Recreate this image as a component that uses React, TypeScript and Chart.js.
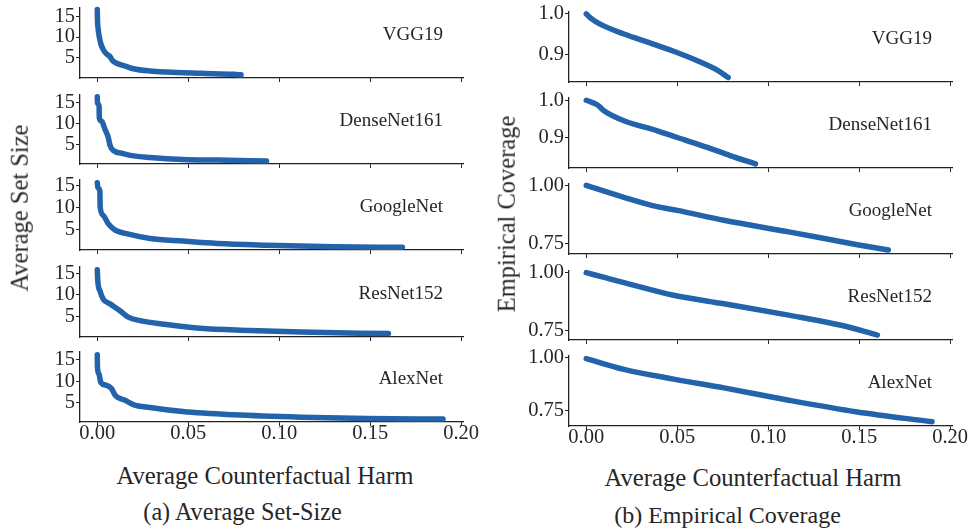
import React, { useEffect, useRef } from 'react';
import { Chart, registerables } from 'chart.js';
Chart.register(...registerables);

const MODELS = ['VGG19', 'DenseNet161', 'GoogleNet', 'ResNet152', 'AlexNet'];
const X_TICKS = [0, 0.05, 0.1, 0.15, 0.2];
const SIZE_TICKS = [5, 10, 15];
const COV_TICKS_FINE = [0.9, 1.0];
const COV_TICKS_COARSE = [0.75, 1.0];

// Average set size vs counterfactual harm
const vggSizeX = [0, 0.0001, 0.0004, 0.001, 0.002, 0.0037, 0.0052, 0.007, 0.0083, 0.0107, 0.0162, 0.0198, 0.029, 0.038, 0.0566, 0.075, 0.079];
const vggSizeY = [16.6, 14.2, 12.2, 10.3, 8.3, 6.7, 5.9, 5.3, 4.4, 3.7, 2.9, 2.4, 1.85, 1.6, 1.3, 1.05, 0.95];
const denseSizeX = [0, 0.0001, 0.001, 0.0011, 0.0024, 0.0042, 0.006, 0.007, 0.0088, 0.0143, 0.02, 0.029, 0.047, 0.066, 0.093];
const denseSizeY = [16.3, 14.8, 14.0, 11.3, 10.5, 8.6, 6.7, 4.8, 3.6, 2.85, 2.3, 1.93, 1.47, 1.3, 1.07];
const googleSizeX = [0, 0.0003, 0.0014, 0.0016, 0.0033, 0.006, 0.0098, 0.016, 0.029, 0.047, 0.066, 0.093, 0.13, 0.1677];
const googleSizeY = [15.75, 14.6, 13.9, 10.1, 8.2, 6.3, 4.8, 4.0, 2.9, 2.3, 1.75, 1.35, 0.98, 0.84];
const resSizeX = [0, 0.0003, 0.0015, 0.0033, 0.007, 0.0125, 0.017, 0.0235, 0.038, 0.0566, 0.084, 0.112, 0.16];
const resSizeY = [15.9, 13.2, 10.9, 9.0, 7.9, 6.3, 4.8, 4.0, 3.1, 2.2, 1.7, 1.3, 0.95];
const alexSizeX = [0, 0.0001, 0.001, 0.0019, 0.0052, 0.0079, 0.0098, 0.0153, 0.0198, 0.029, 0.047, 0.075, 0.112, 0.148, 0.19];
const alexSizeY = [16.2, 13.2, 11.6, 9.7, 9.0, 8.2, 6.7, 5.5, 4.5, 3.8, 2.85, 2.1, 1.55, 1.25, 1.1];

// Empirical coverage vs counterfactual harm
const vggCovX = [0, 0.0024, 0.0079, 0.0207, 0.0353, 0.048, 0.061, 0.072, 0.078];
const vggCovY = [1.0, 0.99, 0.9745, 0.951, 0.929, 0.909, 0.886, 0.863, 0.845];
const denseCovX = [0, 0.006, 0.0097, 0.0207, 0.039, 0.05, 0.0665, 0.079, 0.093];
const denseCovY = [1.0, 0.988, 0.972, 0.945, 0.918, 0.9, 0.8735, 0.8515, 0.829];
const googleCovX = [0, 0.0207, 0.039, 0.05, 0.0756, 0.112, 0.149, 0.166];
const googleCovY = [0.9995, 0.948, 0.908, 0.892, 0.85, 0.799, 0.745, 0.722];
const resCovX = [0, 0.0115, 0.0207, 0.048, 0.0757, 0.112, 0.14, 0.16];
const resCovY = [1.0, 0.976, 0.957, 0.902, 0.8645, 0.814, 0.771, 0.7285];
const alexCovX = [0, 0.0207, 0.048, 0.0757, 0.112, 0.149, 0.19];
const alexCovY = [0.997, 0.9456, 0.899, 0.857, 0.797, 0.742, 0.695];

const sizeSeries = [
  [vggSizeX, vggSizeY], [denseSizeX, denseSizeY], [googleSizeX, googleSizeY], [resSizeX, resSizeY], [alexSizeX, alexSizeY],
];
const covSeries = [
  [vggCovX, vggCovY], [denseCovX, denseCovY], [googleCovX, googleCovY], [resCovX, resCovY], [alexCovX, alexCovY],
];

const sizeYRange = [[0.18, 17.13], [0.38, 16.85], [0.23, 16.52], [0.16, 16.68], [0.41, 17.0]];
const covYRange = [[0.834, 1.0065], [0.818, 1.008], [0.705, 1.0084], [0.707, 1.0103], [0.675, 1.0127]];

const FONT = '"Liberation Serif", "DejaVu Serif", serif';
const TEXT = '#262626';
const LINE = '#2363ab';
const W_Y = 70;
const PT = 12;
const H_X = 32;

type Panel = {
  key: string;
  spineX: number;
  top: number;
  bottom: number;
  padRight: number;
  xs: number[];
  ys: number[];
  yMin: number;
  yMax: number;
  yTicks: number[];
  fmt: (v: number) => string;
  name: string;
  last: boolean;
};

function buildPanels(): Panel[] {
  const leftTops = [6, 93, 178, 265, 350];
  const leftBottoms = [78, 164, 250, 337, 422];
  const rightTops = [10, 96, 182, 269, 354];
  const rightBottoms = [82, 168, 254, 340, 426];
  const panels: Panel[] = [];
  for (let i = 0; i < 5; i++) {
    panels.push({
      key: 'L' + i, spineX: 80, top: leftTops[i], bottom: leftBottoms[i], padRight: 25,
      xs: sizeSeries[i][0], ys: sizeSeries[i][1], yMin: sizeYRange[i][0], yMax: sizeYRange[i][1],
      yTicks: SIZE_TICKS, fmt: (v) => String(v), name: MODELS[i], last: i === 4,
    });
    panels.push({
      key: 'R' + i, spineX: 569, top: rightTops[i], bottom: rightBottoms[i], padRight: 17,
      xs: covSeries[i][0], ys: covSeries[i][1], yMin: covYRange[i][0], yMax: covYRange[i][1],
      yTicks: i < 2 ? COV_TICKS_FINE : COV_TICKS_COARSE,
      fmt: i < 2 ? (v) => v.toFixed(1) : (v) => v.toFixed(2), name: MODELS[i], last: i === 4,
    });
  }
  return panels;
}

function SubPlot({ p }: { p: Panel }) {
  const ref = useRef<HTMLCanvasElement | null>(null);
  const plotW = 383;
  const width = W_Y + plotW + p.padRight;
  const height = PT + (p.bottom - p.top) + H_X;
  useEffect(() => {
    if (!ref.current) return;
    const namePlugin = {
      id: 'modelName',
      afterDraw(chart: any) {
        const { ctx, chartArea } = chart;
        ctx.save();
        ctx.font = `19px ${FONT}`;
        ctx.fillStyle = TEXT;
        ctx.textAlign = 'right';
        ctx.textBaseline = 'middle';
        ctx.fillText(p.name, chartArea.right - 20, chartArea.top + 0.39 * (chartArea.bottom - chartArea.top));
        ctx.restore();
      },
    };
    const chart = new Chart(ref.current, {
      type: 'line',
      data: {
        datasets: [{
          data: p.xs.map((x, i) => ({ x, y: p.ys[i] })),
          borderColor: LINE,
          backgroundColor: LINE,
          borderWidth: 5.5,
          pointRadius: 0,
          cubicInterpolationMode: 'monotone',
          borderCapStyle: 'round',
          borderJoinStyle: 'round',
          clip: false,
        } as any],
      },
      options: {
        responsive: false,
        animation: false,
        layout: { padding: { top: PT, right: p.padRight, left: 0, bottom: 0 }, autoPadding: false } as any,
        plugins: { legend: { display: false }, tooltip: { enabled: false } },
        scales: {
          x: {
            type: 'linear',
            position: 'bottom',
            min: -0.0095,
            max: 0.201,
            afterBuildTicks: (s: any) => { s.ticks = X_TICKS.map((v) => ({ value: v })); },
            afterFit: (s: any) => { s.height = H_X; },
            ticks: {
              display: p.last,
              autoSkip: false,
              maxRotation: 0,
              padding: -5,
              color: TEXT,
              font: { family: FONT, size: 20.5 },
              callback: (v: any) => Number(v).toFixed(2),
            },
            grid: { display: true, drawOnChartArea: false, drawTicks: true, tickLength: 4, color: '#222', lineWidth: 1 },
            border: { display: true, color: '#222', width: 1.3 },
          },
          y: {
            type: 'linear',
            position: 'left',
            min: p.yMin,
            max: p.yMax,
            afterBuildTicks: (s: any) => { s.ticks = p.yTicks.map((v) => ({ value: v })); },
            afterFit: (s: any) => { s.width = W_Y; },
            ticks: {
              autoSkip: false,
              padding: 1,
              color: TEXT,
              font: { family: FONT, size: 20.5 },
              callback: (v: any) => p.fmt(Number(v)),
            },
            grid: { display: true, drawOnChartArea: false, drawTicks: true, tickLength: 4, color: '#222', lineWidth: 1 },
            border: { display: true, color: '#222', width: 1.3 },
          },
        },
      } as any,
      plugins: [namePlugin],
    });
    return () => chart.destroy();
  }, []);
  return (
    <canvas
      ref={ref}
      width={width}
      height={height}
      style={{ position: 'absolute', left: p.spineX - W_Y, top: p.top - PT, width, height }}
    />
  );
}

function Label({ text, cx, cy, size, rotate }: { text: string; cx: number; cy: number; size: number; rotate?: boolean }) {
  return (
    <div
      style={{
        position: 'absolute', left: cx, top: cy,
        transform: `translate(-50%, -50%)${rotate ? ' rotate(-90deg)' : ''}`,
        fontFamily: FONT, fontSize: size, lineHeight: 1, color: TEXT, whiteSpace: 'nowrap',
      }}
    >
      {text}
    </div>
  );
}

export default function App() {
  const panels = buildPanels();
  return (
    <div style={{ position: 'absolute', left: 0, top: 0, width: 969, height: 532, overflow: 'hidden', background: '#fff' }}>
      {panels.map((p) => <SubPlot key={p.key} p={p} />)}
      <Label text="Average Set Size" cx={20} cy={208} size={24.5} rotate />
      <Label text="Empirical Coverage" cx={507} cy={214} size={24.5} rotate />
      <Label text="Average Counterfactual Harm" cx={265} cy={476} size={24.7} />
      <Label text="Average Counterfactual Harm" cx={753} cy={478} size={24.7} />
      <Label text="(a) Average Set-Size" cx={242.5} cy={512} size={24.2} />
      <Label text="(b) Empirical Coverage" cx={727.5} cy={515} size={24} />
    </div>
  );
}
